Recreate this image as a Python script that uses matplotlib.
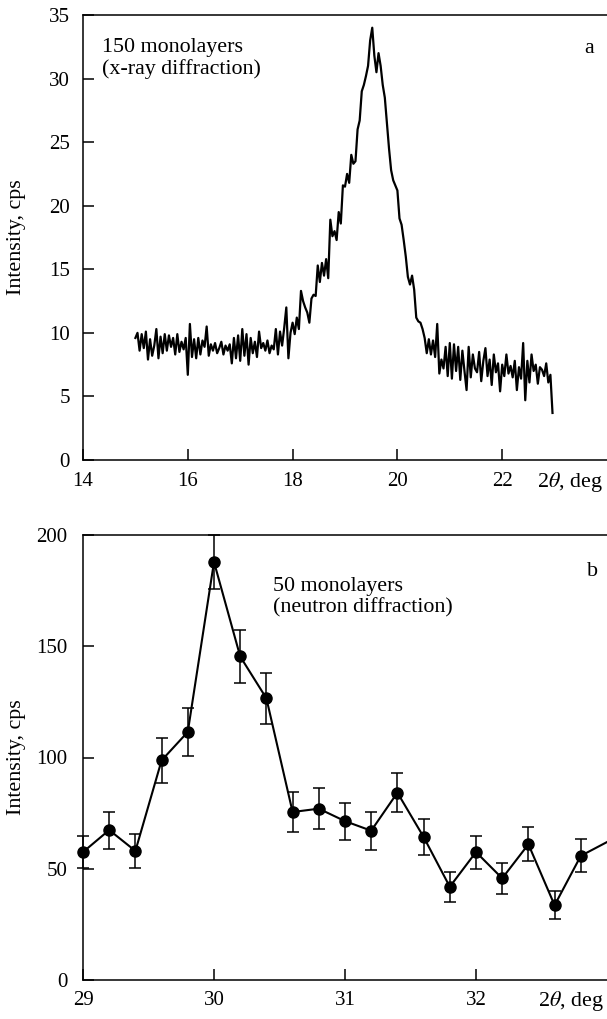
import numpy as np
import matplotlib
matplotlib.use("Agg")
import matplotlib.pyplot as plt
import matplotlib.transforms as mtransforms

plt.rcParams['font.family'] = ['Liberation Serif', 'DejaVu Serif']
plt.rcParams['mathtext.fontset'] = 'stix'

# ---- panel a: x-ray diffraction (2theta from 15.00 step 0.04) ----
xray_start = 15.0
xray_step = 0.04
xray_intensity = [
    # 15.00 - 15.96
    9.6, 10.0, 8.6, 9.9, 8.8, 10.1, 7.9, 9.5, 8.2, 9.0, 10.3, 8.0, 9.7, 8.4, 9.9, 8.6, 9.8, 8.9, 9.6, 8.3, 9.9, 8.5, 9.3, 8.7, 9.6,
    # 16.00 - 16.96
    6.7, 10.7, 8.1, 9.5, 8.0, 9.6, 8.3, 9.4, 8.9, 10.5, 8.2, 9.1, 8.6, 9.2, 8.4, 8.8, 9.3, 8.3, 9.0, 8.6, 9.1, 7.6, 9.6, 8.0, 9.8,
    # 17.00 - 17.96
    7.8, 10.3, 8.2, 9.9, 7.5, 9.6, 8.4, 9.3, 8.1, 10.1, 8.8, 9.2, 8.6, 9.4, 8.4, 9.0, 8.7, 10.3, 8.3, 10.1, 9.0, 10.4, 12.0, 8.0, 10.0,
    # 18.00 - 18.96
    10.8, 9.9, 11.2, 10.3, 13.3, 12.5, 12.0, 11.6, 10.8, 12.7, 13.0, 12.9, 15.3, 14.0, 15.5, 14.5, 15.8, 14.3, 18.9, 17.6, 18.0, 17.3, 19.5, 18.6, 21.6,
    # 19.00 - 19.96
    21.5, 22.5, 21.8, 24.0, 23.3, 23.5, 26.0, 26.7, 29.0, 29.5, 30.2, 31.0, 33.0, 34.0, 31.8, 30.5, 32.0, 31.0, 29.5, 28.5, 26.5, 24.5, 22.8, 22.0, 21.6,
    # 20.00 - 20.96
    21.2, 19.0, 18.5, 17.3, 16.0, 14.4, 13.8, 14.5, 13.4, 11.2, 10.9, 10.8, 10.3, 9.6, 8.4, 9.5, 8.3, 9.4, 8.1, 10.7, 6.8, 7.9, 7.2, 8.9, 6.6,
    # 21.00 - 21.96
    9.2, 6.4, 9.1, 7.0, 8.9, 6.3, 8.6, 7.0, 5.5, 8.9, 6.5, 8.3, 7.2, 6.9, 8.5, 6.2, 7.8, 8.8, 6.6, 7.9, 5.9, 8.3, 6.9, 7.6, 5.4,
    # 22.00 - 22.96
    7.5, 6.6, 8.3, 6.8, 7.4, 6.5, 7.8, 5.5, 7.3, 6.4, 9.2, 4.7, 7.8, 6.1, 8.3, 7.0, 7.5, 6.0, 7.3, 7.1, 6.6, 7.6, 6.1, 6.7, 3.7,
]
xray_angle = xray_start + xray_step * np.arange(len(xray_intensity))

# ---- panel b: neutron diffraction ----
neutron_angle = [29.0, 29.2, 29.4, 29.6, 29.8, 30.0, 30.2, 30.4, 30.6, 30.8,
                 31.0, 31.2, 31.4, 31.6, 31.8, 32.0, 32.2, 32.4, 32.6, 32.8, 33.0]
neutron_intensity = [57.5, 67.4, 58.0, 98.7, 111.5, 187.9, 145.4, 126.6, 75.5, 77.0,
                     71.4, 67.1, 84.2, 64.3, 41.9, 57.5, 45.7, 61.0, 33.6, 55.8, 62.0]
neutron_error = [7.2, 8.3, 7.7, 10.1, 10.7, 12.0, 11.8, 11.5, 9.0, 9.2,
                 8.3, 8.5, 8.7, 8.0, 6.7, 7.4, 6.9, 7.7, 6.2, 7.4, 7.8]

W, H = 607, 1019
fig = plt.figure(figsize=(W / 100, H / 100), dpi=100)

FS_TICK = 15
FS_TEXT = 15.8
left = 83 / W

def style(ax, xpad, ypad):
    ax.spines['right'].set_visible(False)
    for s in ['left', 'top', 'bottom']:
        ax.spines[s].set_linewidth(1.1)
    ax.tick_params(direction='in', length=8, width=1.1, labelsize=FS_TICK,
                   top=False, right=False)
    ax.tick_params(axis='x', pad=xpad)
    ax.tick_params(axis='y', pad=ypad)

# top panel
ax1 = fig.add_axes([left, (H - 460) / H, 1 - left, (460 - 15) / H])
style(ax1, 9, 9.5)
ax1.plot(xray_angle, xray_intensity, color='black', lw=1.6)
ax1.set_xlim(14, 24)
ax1.set_ylim(0, 35)
ax1.set_xticks([14, 16, 18, 20, 22])
ax1.set_yticks([0, 5, 10, 15, 20, 25, 30, 35])
ax1.set_ylabel('Intensity, cps', fontsize=FS_TEXT)
ax1.yaxis.set_label_coords(-0.108, 0.5)
ax1.text(0.036, 0.948, '150 monolayers\n(x-ray diffraction)', transform=ax1.transAxes,
         fontsize=FS_TEXT, va='top', ha='left', linespacing=1.1)
ax1.text(0.966, 0.925, 'a', transform=ax1.transAxes, fontsize=FS_TEXT, va='center', ha='center')
tr1 = mtransforms.blended_transform_factory(ax1.transData, ax1.transAxes)
ax1.text(22.67, -0.022, r'2$\theta$, deg', transform=tr1, fontsize=FS_TEXT, va='top', ha='left')

# bottom panel
ax2 = fig.add_axes([left, (H - 980) / H, 1 - left, (980 - 535) / H])
style(ax2, 8, 11)
ax2.plot(neutron_angle, neutron_intensity, color='black', lw=1.5)
ax2.errorbar(neutron_angle[:-1], neutron_intensity[:-1], yerr=neutron_error[:-1],
             fmt='o', color='black', ms=8, elinewidth=1.1, capsize=4.5, capthick=1.1,
             clip_on=False, zorder=3)
ax2.set_xlim(29, 33)
ax2.set_ylim(0, 200)
ax2.set_xticks([29, 30, 31, 32])
ax2.set_yticks([0, 50, 100, 150, 200])
ax2.set_ylabel('Intensity, cps', fontsize=FS_TEXT)
ax2.yaxis.set_label_coords(-0.108, 0.5)
ax2.text(0.363, 0.905, '50 monolayers\n(neutron diffraction)', transform=ax2.transAxes,
         fontsize=FS_TEXT, va='top', ha='left', linespacing=1.1)
ax2.text(0.972, 0.919, 'b', transform=ax2.transAxes, fontsize=FS_TEXT, va='center', ha='center')
tr2 = mtransforms.blended_transform_factory(ax2.transData, ax2.transAxes)
ax2.text(32.47, -0.02, r'2$\theta$, deg', transform=tr2, fontsize=FS_TEXT, va='top', ha='left')

fig.savefig('out.png', dpi=100)
